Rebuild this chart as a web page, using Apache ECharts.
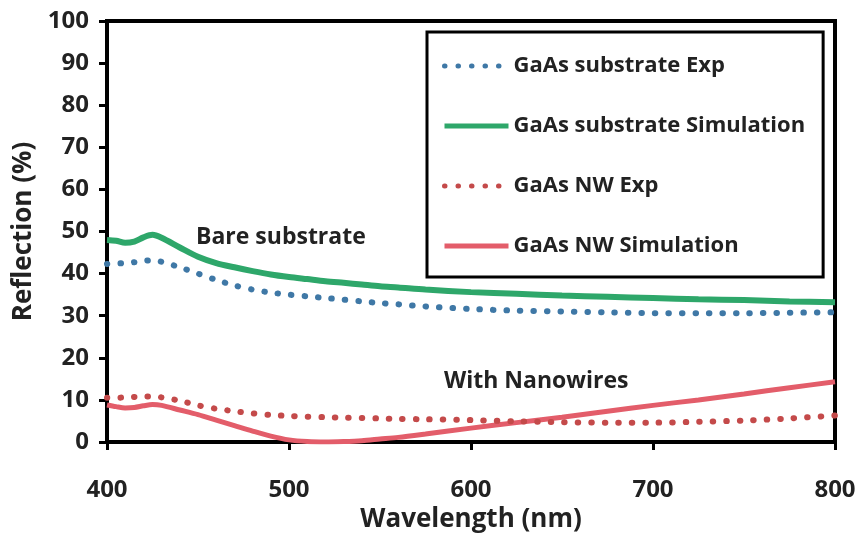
<!DOCTYPE html>
<html>
<head>
<meta charset="utf-8">
<script src="https://cdn.jsdelivr.net/npm/echarts@6/dist/echarts.min.js"></script>
<style>
  html, body { margin: 0; padding: 0; background: #fff; }
  #container { width: 864px; height: 535px; }
</style>
</head>
<body>
<div id="container"></div>
<script>
// wavelength grid (nm), shared by all series
var wavelength = [400, 405, 410, 415, 420, 425, 430, 440, 450, 460, 470, 480, 490, 500, 510, 520, 530, 540, 550, 560, 575, 600, 625, 650, 675, 700, 725, 750, 775, 800];
// reflection (%)
var subExp = [42.3, 42.4, 42.5, 42.7, 43.0, 43.2, 42.8, 41.5, 40.0, 38.5, 37.2, 36.2, 35.5, 35.0, 34.6, 34.2, 33.8, 33.4, 33.0, 32.7, 32.2, 31.6, 31.2, 31.0, 30.8, 30.6, 30.6, 30.6, 30.7, 30.8];
var subSim = [48.0, 47.8, 47.3, 47.6, 48.6, 49.2, 48.5, 46.2, 44.0, 42.5, 41.5, 40.6, 39.8, 39.2, 38.7, 38.2, 37.8, 37.4, 37.0, 36.7, 36.2, 35.6, 35.2, 34.8, 34.5, 34.2, 33.9, 33.7, 33.4, 33.2];
var nwExp = [10.5, 10.5, 10.6, 10.7, 10.8, 10.8, 10.6, 9.8, 8.7, 7.9, 7.3, 6.8, 6.4, 6.2, 6.0, 5.9, 5.8, 5.7, 5.6, 5.5, 5.4, 5.2, 4.9, 4.7, 4.6, 4.6, 4.8, 5.1, 5.6, 6.3];
var nwSim = [8.8, 8.4, 8.1, 8.2, 8.6, 8.9, 8.7, 7.6, 6.5, 5.2, 3.9, 2.6, 1.4, 0.5, 0.1, 0.0, 0.1, 0.3, 0.7, 1.1, 1.9, 3.3, 4.6, 5.9, 7.3, 8.7, 10.0, 11.4, 12.9, 14.3];
var seriesNames = ['GaAs substrate Exp', 'GaAs substrate Simulation', 'GaAs NW Exp', 'GaAs NW Simulation'];
var seriesColors = ['#3f78a6', '#2ea76a', '#c44a4a', '#e35d6a'];

var FONT = '"Open Sans", sans-serif';

function pairs(ys) {
	var out = [];
	for (var i = 0; i < wavelength.length; i++) {
		out.push([wavelength[i], ys[i]]);
	}
	return out;
}

function main() {
	var dom = document.getElementById("container");
	var myChart = echarts.init(dom);
	var dotted = { width: 6, type: [0.5, 13], cap: 'round' };
	var option = {
		animation: false,
		backgroundColor: '#fff',
		grid: {
			left: 107, right: 29, top: 21, bottom: 93,
			outerBoundsMode: 'none',
			show: true, borderColor: '#000', borderWidth: 4
		},
		legend: {
			orient: 'vertical',
			left: 427, top: 32,
			borderColor: '#000', borderWidth: 3,
			backgroundColor: '#fff',
			padding: [23, 18, 20, 15],
			itemGap: 38,
			itemWidth: 64,
			itemHeight: 14,
			itemStyle: { opacity: 0 },
			lineStyle: { width: 5 },
			textStyle: { fontSize: 22, fontWeight: 'bold', color: '#222', fontFamily: FONT },
			data: seriesNames
		},
		xAxis: {
			type: 'value',
			min: 400, max: 800, interval: 100,
			name: 'Wavelength (nm)',
			nameLocation: 'middle',
			nameGap: 60,
			nameTextStyle: { fontSize: 26, fontWeight: 'bold', color: '#222', fontFamily: FONT },
			axisLine: { lineStyle: { color: '#000', width: 4 } },
			axisTick: { inside: false, length: 8, lineStyle: { color: '#000', width: 3 } },
			axisLabel: { margin: 36, fontSize: 24, fontWeight: 'bold', color: '#222', fontFamily: FONT },
			splitLine: { show: false }
		},
		yAxis: {
			type: 'value',
			min: 0, max: 100, interval: 10,
			name: 'Reflection (%)',
			nameLocation: 'middle',
			nameRotate: 90,
			nameGap: 61,
			nameTextStyle: { fontSize: 26, fontWeight: 'bold', color: '#222', fontFamily: FONT },
			axisLine: { show: true, lineStyle: { color: '#000', width: 4 } },
			axisTick: { show: true, inside: false, length: 8, lineStyle: { color: '#000', width: 3 } },
			axisLabel: { margin: 18, fontSize: 24, fontWeight: 'bold', color: '#222', fontFamily: FONT },
			splitLine: { show: false }
		},
		graphic: [
			{ type: 'text', left: 196, top: 226, style: { text: 'Bare substrate', font: 'bold 23px "Open Sans", sans-serif', fill: '#222' } },
			{ type: 'text', left: 444, top: 370, style: { text: 'With Nanowires', font: 'bold 23px "Open Sans", sans-serif', fill: '#222' } }
		],
		series: [
			{ name: seriesNames[0], type: 'line', data: pairs(subExp), symbol: 'none', smooth: 0.3, color: seriesColors[0], lineStyle: dotted, z: 3 },
			{ name: seriesNames[1], type: 'line', data: pairs(subSim), symbol: 'none', smooth: 0.3, color: seriesColors[1], lineStyle: { width: 6 }, z: 2 },
			{ name: seriesNames[2], type: 'line', data: pairs(nwExp), symbol: 'none', smooth: 0.3, color: seriesColors[2], lineStyle: dotted, z: 3 },
			{ name: seriesNames[3], type: 'line', data: pairs(nwSim), symbol: 'none', smooth: 0.3, color: seriesColors[3], lineStyle: { width: 5 }, z: 2 }
		]
	};
	myChart.setOption(option, true);
}
main();
</script>
</body>
</html>
